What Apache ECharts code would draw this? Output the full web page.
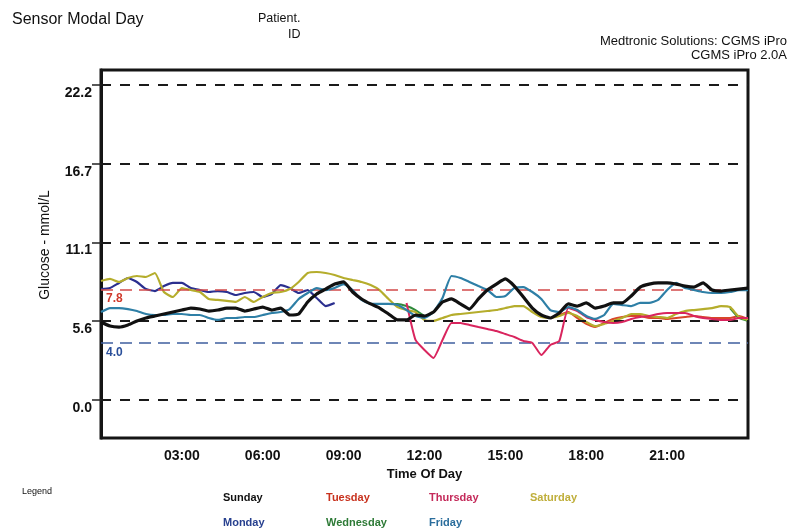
<!DOCTYPE html>
<html>
<head>
<meta charset="utf-8">
<script src="https://cdn.jsdelivr.net/npm/echarts@6/dist/echarts.min.js"></script>
<style>html,body{margin:0;padding:0;background:#fff}#chart{width:790px;height:530px}</style>
</head>
<body>
<div id="chart"></div>
<script>
// Readings every 20 minutes, 00:00 .. 24:00 (mmol/L)
const times = [
  "00:00","00:20","00:40","01:00","01:20","01:40","02:00","02:20","02:40",
  "03:00","03:20","03:40","04:00","04:20","04:40","05:00","05:20","05:40",
  "06:00","06:20","06:40","07:00","07:20","07:40","08:00","08:20","08:40",
  "09:00","09:20","09:40","10:00","10:20","10:40","11:00","11:20","11:40",
  "12:00","12:20","12:40","13:00","13:20","13:40","14:00","14:20","14:40",
  "15:00","15:20","15:40","16:00","16:20","16:40","17:00","17:20","17:40",
  "18:00","18:20","18:40","19:00","19:20","19:40","20:00","20:20","20:40",
  "21:00","21:20","21:40","22:00","22:20","22:40","23:00","23:20","23:40",
  "24:00"
];

const sunday = [
  5.50,5.21,5.14,5.29,5.57,5.78,5.92,6.06,6.20,6.34,
  6.48,6.41,6.27,6.34,6.48,6.48,6.27,6.41,6.55,6.34,
  6.48,5.99,6.06,6.91,7.47,7.82,8.17,8.32,7.61,7.12,
  6.77,6.48,6.06,5.64,5.64,5.99,5.92,6.20,6.91,7.12,
  6.77,6.41,7.12,7.75,8.17,8.53,8.03,7.26,6.48,5.99,
  5.78,6.13,6.77,6.62,6.84,6.48,6.62,6.84,6.84,7.33,
  7.96,8.17,8.25,8.25,8.17,8.03,7.96,8.25,7.75,7.68,
  7.75,7.82,7.89
];

const monday = [
  7.82,7.89,8.25,8.60,8.32,7.82,7.68,8.03,8.25,8.25,
  7.89,7.75,7.61,7.68,7.61,7.40,7.54,7.61,7.26,7.47,
  8.10,7.89,7.54,7.75,7.19,6.62,6.84,null,null,null,
  null,null,null,null,null,null,null,null,null,null,
  null,null,null,null,null,null,null,null,null,null,
  null,null,null,null,null,null,null,null,null,null,
  null,null,null,null,null,null,null,null,null,null,
  null,null,null
];

const tuesday = [
  null,null,null,null,null,null,null,null,null,null,
  null,null,null,null,null,null,null,null,null,null,
  null,null,null,null,null,null,null,null,null,null,
  null,null,null,null,null,null,null,null,null,null,
  null,null,null,null,null,null,null,null,null,null,
  null,5.99,6.20,5.78,5.36,5.14,5.43,5.71,5.85,5.92,
  5.92,5.78,5.78,5.71,5.78,5.85,5.92,5.85,5.78,5.78,
  5.78,5.92,5.71
];

const wednesday = [
  null,null,null,null,null,null,null,null,null,null,
  null,null,null,null,null,null,null,null,null,null,
  null,null,null,null,null,null,null,null,null,null,
  null,null,6.77,6.77,6.62,6.34,5.92,null,null,null,
  null,null,null,null,null,null,null,null,null,null,
  null,null,null,null,null,null,null,null,null,null,
  null,null,null,null,null,null,null,null,null,null,
  6.48,5.78,5.57
];

const thursday = [
  null,null,null,null,null,null,null,null,null,null,
  null,null,null,null,null,null,null,null,null,null,
  null,null,null,null,null,null,null,null,null,null,
  null,null,null,null,6.84,4.23,3.52,2.96,4.23,5.43,
  5.43,5.29,5.14,5.00,4.86,4.65,4.44,4.16,4.02,3.17,
  3.88,4.16,6.48,6.27,5.85,5.64,5.50,5.43,5.50,5.71,
  5.85,5.92,6.06,6.13,6.13,6.13,5.92,5.78,5.71,5.64,
  5.64,5.78,5.78
];

const friday = [
  6.20,6.48,6.48,6.41,6.27,6.06,5.99,5.99,6.06,6.06,
  5.99,5.99,5.78,5.64,5.78,5.78,5.85,5.85,5.99,6.13,
  6.20,6.41,7.12,7.54,7.89,7.75,7.89,8.17,7.75,7.05,
  6.77,6.77,6.77,6.69,6.34,5.92,5.78,6.20,7.19,8.74,
  8.60,8.32,8.03,7.75,7.26,7.33,7.89,7.96,7.61,7.12,
  6.34,6.20,6.55,6.34,5.92,5.71,5.99,6.77,6.69,6.62,
  6.84,6.84,7.05,7.75,8.25,7.89,7.75,7.61,7.54,7.54,
  7.61,7.75,7.75
];

const saturday = [
  8.39,8.53,8.32,8.60,8.74,8.67,8.95,7.61,7.26,7.89,
  7.75,7.61,7.12,7.05,6.98,6.91,7.26,6.91,7.26,7.54,
  7.61,7.82,8.32,8.95,9.02,8.95,8.81,8.60,8.46,8.32,
  8.10,7.75,7.12,6.55,6.34,6.20,5.64,5.57,5.78,5.99,
  6.06,6.13,6.20,6.27,6.34,6.48,6.62,6.62,6.20,5.85,
  5.78,5.92,6.13,5.92,5.50,5.21,5.36,5.57,5.78,6.06,
  6.06,5.92,5.85,5.78,6.06,6.27,6.34,6.41,6.48,6.62,
  6.55,5.85,5.64
];

// Glucose axis: 0 / 100 / 200 / 300 / 400 mg/dL expressed in mmol/L
const yTickValues = [0, 5.55, 11.1, 16.65, 22.2];
const yTickLabels = ["0.0", "5.6", "11.1", "16.7", "22.2"];
const targetHigh = 7.8;
const targetLow = 4.0;

const FONT = "'Liberation Sans', Arial, Helvetica, sans-serif";

const days = [
  { name: "Sunday",    data: sunday,    line: "#111111", text: "#111111", width: 3.2, z: 9 },
  { name: "Monday",    data: monday,    line: "#2b2f8f", text: "#27408f", width: 2.2, z: 4 },
  { name: "Tuesday",   data: tuesday,   line: "#d8462a", text: "#c8321e", width: 2,   z: 3 },
  { name: "Wednesday", data: wednesday, line: "#2f8a3a", text: "#2d7a36", width: 2,   z: 3 },
  { name: "Thursday",  data: thursday,  line: "#d9255e", text: "#c42a5a", width: 2,   z: 5 },
  { name: "Friday",    data: friday,    line: "#2e7fa6", text: "#2a6d9c", width: 2.2, z: 6 },
  { name: "Saturday",  data: saturday,  line: "#b5ad2c", text: "#bfae3a", width: 2.2, z: 4 }
];

// legend cell positions (left, top)
const legendPos = {
  Sunday: [217, 492], Tuesday: [320, 492], Thursday: [423, 492], Saturday: [524, 492],
  Monday: [217, 517], Wednesday: [320, 517], Friday: [423, 517]
};

const series = [
  {
    type: "line",
    name: "grid",
    data: [],
    z: 1,
    silent: true,
    markLine: {
      silent: true,
      symbol: ["none", "none"],
      animation: false,
      data: [
        ...yTickValues.map(v => ({
          yAxis: v,
          lineStyle: { color: "#1a1a1a", width: 2, type: [10, 9], opacity: 1 },
          label: { show: false }
        })),
        {
          yAxis: targetHigh,
          lineStyle: { color: "#d24a4a", width: 1.5, type: [12, 7], opacity: 1 },
          label: {
            show: true, position: "insideStartBottom", formatter: "7.8",
            color: "#d0392b", fontWeight: "bold", fontSize: 12, fontFamily: FONT,
            distance: [5, 3]
          }
        },
        {
          yAxis: targetLow,
          lineStyle: { color: "#3f5f9f", width: 1.5, type: [12, 7], opacity: 1 },
          label: {
            show: true, position: "insideStartBottom", formatter: "4.0",
            color: "#2a4f9a", fontWeight: "bold", fontSize: 12, fontFamily: FONT,
            distance: [5, 3]
          }
        }
      ]
    }
  },
  ...days.map(d => ({
    type: "line",
    name: d.name,
    data: d.data,
    showSymbol: false,
    symbol: "none",
    connectNulls: false,
    smooth: 0.15,
    z: d.z,
    color: d.text,
    lineStyle: { color: d.line, width: d.width },
    animation: false
  }))
];

const legends = days.map(d => ({
  data: [{ name: d.name, textStyle: { color: d.text } }],
  left: legendPos[d.name][0],
  top: legendPos[d.name][1],
  itemWidth: 0,
  itemHeight: 0,
  selectedMode: false,
  padding: 0,
  textStyle: { fontFamily: FONT, fontSize: 11, fontWeight: "bold", color: d.text }
}));

const titleText = (size) => ({ fontFamily: FONT, fontSize: size, fontWeight: "normal", color: "#111" });

const chart = echarts.init(document.getElementById("chart"), null, { renderer: "canvas" });
chart.setOption({
  animation: false,
  backgroundColor: "#ffffff",
  title: [
    { text: "Sensor Modal Day", left: 12, top: 12, padding: 0, textStyle: titleText(16) },
    { text: "Patient.", left: 258, top: 12, padding: 0, textStyle: titleText(12.5) },
    { text: "ID", left: 288, top: 28, padding: 0, textStyle: titleText(12.5) },
    { text: "Medtronic Solutions: CGMS iPro", right: 3, top: 35, padding: 0, textStyle: titleText(13) },
    { text: "CGMS iPro 2.0A", right: 3, top: 49, padding: 0, textStyle: titleText(13) },
    { text: "Legend", left: 22, top: 487, padding: 0, textStyle: titleText(9) }
  ],
  legend: legends,
  grid: {
    left: 101, right: 42, top: 70, bottom: 92,
    show: true, borderColor: "#151515", borderWidth: 3, backgroundColor: "#ffffff",
    containLabel: false
  },
  xAxis: {
    type: "category",
    data: times,
    boundaryGap: false,
    name: "Time Of Day",
    nameLocation: "middle",
    nameGap: 28,
    nameTextStyle: { fontFamily: FONT, fontSize: 13, fontWeight: "bold", color: "#111" },
    axisLine: { show: false },
    axisTick: { show: false },
    splitLine: { show: false },
    axisLabel: {
      interval: 8,
      margin: 11,
      fontFamily: FONT, fontSize: 14, fontWeight: "bold", color: "#111",
      formatter: v => (v === "00:00" || v === "24:00") ? "" : v
    }
  },
  yAxis: {
    type: "value",
    min: -2.68,
    max: 23.26,
    name: "Glucose - mmol/L",
    nameLocation: "middle",
    nameRotate: 90,
    nameGap: 49,
    nameTextStyle: {
      fontFamily: FONT, fontSize: 14, fontWeight: "normal", color: "#111",
      padding: [0, 0, 0, 18]
    },
    axisLine: { show: true, lineStyle: { color: "#151515", width: 3 } },
    axisTick: {
      show: true, inside: false, length: 9,
      customValues: yTickValues,
      lineStyle: { color: "#222", width: 1.5 }
    },
    splitLine: { show: false },
    axisLabel: {
      customValues: yTickValues,
      margin: 9,
      verticalAlign: "top",
      padding: [1, 0, 0, 0],
      fontFamily: FONT, fontSize: 14, fontWeight: "bold", color: "#111",
      formatter: v => {
        let best = 0;
        yTickValues.forEach((t, i) => { if (Math.abs(t - v) < Math.abs(yTickValues[best] - v)) best = i; });
        return yTickLabels[best];
      }
    }
  },
  series: series
});
</script>
</body>
</html>
